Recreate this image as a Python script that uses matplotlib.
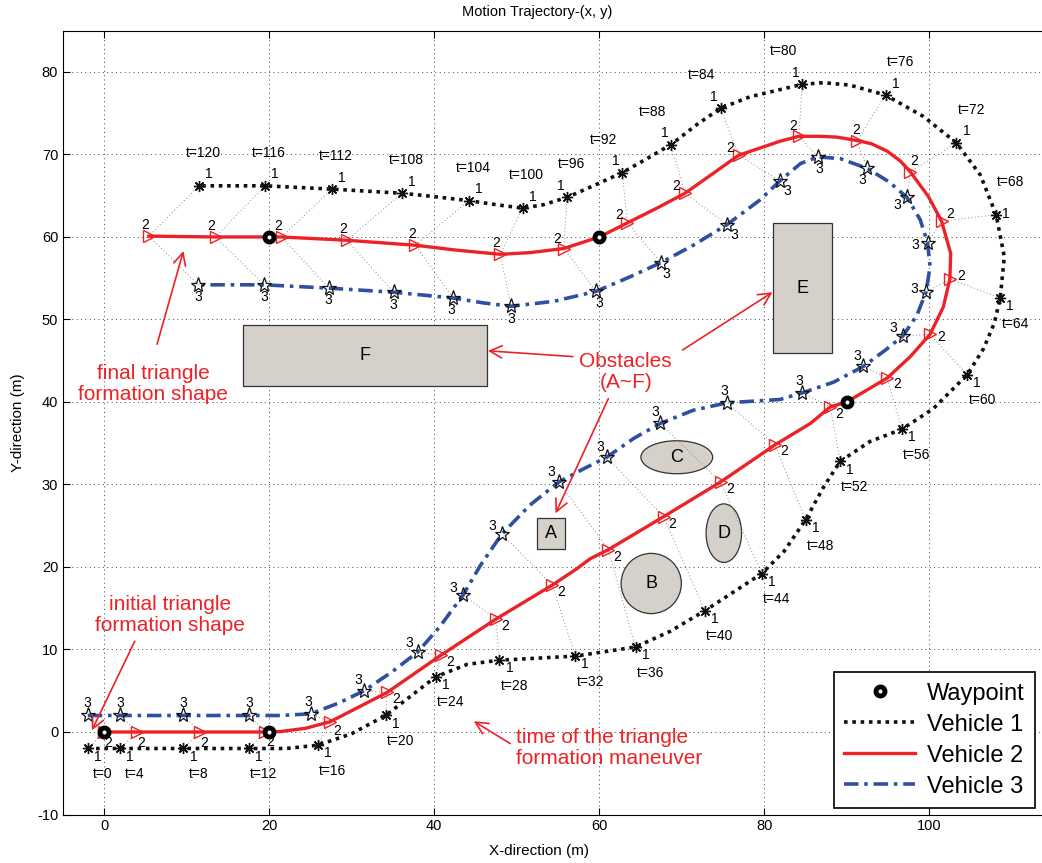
import numpy as np
import matplotlib.pyplot as plt
from matplotlib.patches import Rectangle, Ellipse

plt.rcParams['font.family'] = ['Liberation Sans', 'DejaVu Sans']
plt.rcParams['axes.unicode_minus'] = False

# time instants where the formation is marked
times = list(range(0, 121, 4))

# vehicle positions at the marked times
v1_x = [-2, 1.9, 9.6, 17.5, 25.9, 34.1, 40.2, 47.9, 57.1, 64.4, 72.8, 79.7, 85.0, 89.2, 96.7, 104.6,
        108.6, 108.1, 103.3, 94.7, 84.6, 74.7, 68.7, 62.8, 56.1, 50.7, 44.2, 36.1, 27.6, 19.5, 11.5]
v1_y = [-2, -2, -2, -2, -1.6, 2.0, 6.7, 8.7, 9.2, 10.3, 14.7, 19.2, 25.7, 32.8, 36.7, 43.3,
        52.6, 62.7, 71.4, 77.2, 78.5, 75.6, 71.2, 67.8, 64.8, 63.5, 64.4, 65.3, 65.8, 66.2, 66.2]
v2_x = [0, 4.0, 11.6, 19.5, 27.4, 34.3, 40.8, 47.5, 54.3, 61.1, 67.8, 74.7, 81.3, 88.0, 94.9, 100.1,
        102.5, 101.5, 97.7, 91.2, 84.2, 76.9, 70.4, 63.4, 55.7, 48.0, 37.7, 29.4, 21.5, 13.5, 5.4]
v2_y = [0, 0, 0, 0, 1.25, 4.8, 9.3, 13.7, 17.8, 22.1, 26.1, 30.3, 34.8, 39.4, 42.9, 48.2,
        54.9, 61.9, 67.9, 71.6, 72.2, 69.9, 65.3, 61.7, 58.6, 57.9, 59.0, 59.6, 60.0, 60.0, 60.1]
v3_x = [-2, 1.94, 9.6, 17.6, 25.0, 31.5, 38.0, 43.5, 48.2, 55.1, 60.9, 67.4, 75.5, 84.6, 92.0, 96.8,
        99.6, 99.8, 97.3, 92.5, 86.5, 81.9, 75.5, 67.5, 59.6, 49.3, 42.3, 35.1, 27.2, 19.4, 11.4]
v3_y = [2, 2, 2, 2, 2.2, 5.0, 9.7, 16.6, 24.0, 30.3, 33.3, 37.4, 39.9, 41.1, 44.3, 48.0,
        53.3, 59.3, 64.8, 68.3, 69.7, 66.8, 61.5, 56.9, 53.4, 51.6, 52.6, 53.3, 53.8, 54.2, 54.2]

# full trajectories (marked points plus extra points)
path1_x = [-2, 1.9, 9.6, 17.5, 22, 25.9, 30, 34.1, 40.2, 44, 47.9, 57.1, 64.4, 68.6, 72.8, 79.7, 82.4,
           85, 87.2, 89.2, 92.8, 96.7, 100.5, 104.6, 106.6, 107.9, 108.6, 109.1, 108.1, 106.2, 103.3,
           99.3, 94.7, 90.4, 87.2, 84.6, 78.3, 74.7, 71.8, 68.7, 65.8, 62.8, 59.5, 56.1, 53.2, 50.7,
           47.6, 44.2, 39.9, 36.1, 27.6, 19.5, 11.5]
path1_y = [-2, -2, -2, -2, -2, -1.6, -0.2, 2.0, 6.7, 8.2, 8.7, 9.2, 10.3, 12.2, 14.7, 19.2, 21.9,
           25.7, 29.7, 32.8, 35.2, 36.7, 39.2, 43.3, 46.5, 49.6, 52.6, 57.6, 62.7, 67.5, 71.4,
           74.6, 77.2, 78.4, 78.7, 78.5, 77.0, 75.6, 73.6, 71.2, 69.5, 67.8, 66.3, 64.8, 63.9, 63.5,
           63.9, 64.4, 64.9, 65.3, 65.8, 66.2, 66.2]
path2_x = [0, 4, 11.6, 19.5, 21.3, 24.4, 27.4, 31, 34.3, 40.8, 47.5, 54.3, 57.3, 58.9, 61.1, 67.8,
           74.7, 81.3, 85.6, 88, 90, 94.9, 97.7, 100.1, 101.7, 102.5, 102.6, 101.5, 99.9, 97.7, 96.5,
           94.9, 93.0, 91.2, 88.8, 86.8, 84.2, 81.9, 76.9, 73.8, 70.4, 67, 63.4, 60, 55.7, 51.6, 48,
           42.7, 37.7, 29.4, 21.5, 20, 13.5, 5.4]
path2_y = [0, 0, 0, 0, 0.05, 0.45, 1.25, 3.1, 4.8, 9.3, 13.7, 17.8, 19.8, 21.0, 22.1, 26.1,
           30.3, 34.8, 37.4, 39.4, 40, 42.9, 45.5, 48.2, 51.5, 54.9, 58, 61.9, 64.9, 67.9, 69.2,
           70.4, 71.3, 71.7, 72.1, 72.2, 72.2, 71.6, 69.9, 67.7, 65.3, 63.5, 61.7, 60, 58.6, 58.1, 57.9,
           58.4, 59.0, 59.6, 60.0, 60.0, 60.0, 60.1]
path3_x = [-2, 1.94, 9.6, 17.6, 21.3, 25, 28.4, 31.5, 34.9, 38, 40.7, 43.5, 45.6, 48.2, 51.6, 55.1,
           58.1, 60.9, 64.2, 67.4, 71.4, 75.5, 77.1, 81.9, 84.6, 88.4, 92, 94.7, 96.8, 98.5, 99.6,
           100.1, 99.8, 98.9, 97.3, 95.1, 92.5, 89.2, 86.5, 84.4, 81.9, 79.5, 75.5, 71.4, 67.5, 63.8,
           59.6, 54.5, 49.3, 46, 42.3, 35.1, 27.2, 19.4, 11.4]
path3_y = [2, 2, 2, 2, 2.0, 2.2, 3.5, 5.0, 7.3, 9.7, 12.8, 16.6, 20.2, 24, 27.5, 30.3,
           31.9, 33.3, 35.6, 37.4, 39, 39.9, 40.0, 40.3, 41.1, 42.4, 44.3, 46.3, 48, 50.5, 53.3,
           56.4, 59.3, 62.1, 64.8, 66.7, 68.3, 69.5, 69.7, 68.9, 66.8, 64.5, 61.5, 59, 56.9, 55.2,
           53.4, 52.2, 51.6, 52, 52.6, 53.3, 53.8, 54.2, 54.2]

# waypoints
wp_x = [0, 20, 90, 60, 20]
wp_y = [0, 0, 40, 60, 60]

# obstacles
rect_names = ['A', 'E', 'F']
rect_x0 = [52.5, 81.05, 16.8]
rect_y0 = [22.2, 45.9, 41.9]
rect_w = [3.3, 7.15, 29.6]
rect_h = [3.7, 15.8, 7.4]
ell_names = ['B', 'C', 'D']
ell_cx = [66.3, 69.4, 75.1]
ell_cy = [18.0, 33.3, 24.1]
ell_w = [7.3, 8.7, 4.3]
ell_h = [7.3, 4.0, 7.1]

red = '#ec2227'
blue = '#2f50a0'
obs_face = '#d5d1ca'

fig = plt.figure(figsize=(10.42, 8.63), dpi=100)
ax = fig.add_axes([63 / 1042, 48.5 / 863, 990 / 1042, 783.8 / 863])

ax.set_xticks(range(0, 101, 20))
ax.set_yticks(range(-10, 81, 10))
ax.set_xlim(-5, 115)
ax.set_ylim(-10, 85)
ax.tick_params(direction='in', top=True, right=True, length=5, labelsize=10.5, width=0.8)
ax.grid(True, color='#444444', lw=0.7, dashes=(1, 3.5))
ax.set_axisbelow(True)
for s in ax.spines.values():
    s.set_linewidth(0.8)

# obstacles
for name, x0, y0, w, h in zip(rect_names, rect_x0, rect_y0, rect_w, rect_h):
    ax.add_patch(Rectangle((x0, y0), w, h, fc=obs_face, ec='#333333', lw=0.9, zorder=1))
    ax.text(x0 + w / 2, y0 + h / 2, name, ha='center', va='center', fontsize=13, zorder=2)
for name, cx, cy, w, h in zip(ell_names, ell_cx, ell_cy, ell_w, ell_h):
    ax.add_patch(Ellipse((cx, cy), w, h, fc=obs_face, ec='#333333', lw=0.9, zorder=1))
    ax.text(cx, cy, name, ha='center', va='center', fontsize=13, zorder=2)

# formation triangles at each marked time
for i in range(len(times)):
    ax.plot([v1_x[i], v2_x[i], v3_x[i]], [v1_y[i], v2_y[i], v3_y[i]],
            color='#8a8a8a', lw=0.7, dashes=(1, 2.5), zorder=2)

l1, = ax.plot(path1_x, path1_y, color='#111111', lw=2.6, ls=(0, (1, 1.3)), zorder=3,
              label='Vehicle 1')
l2, = ax.plot(path2_x, path2_y, color=red, lw=2.4, zorder=3, label='Vehicle 2')
l3, = ax.plot(path3_x, path3_y, color=blue, lw=2.6, ls=(0, (4, 1.6, 1, 1.6)), zorder=3,
              label='Vehicle 3')

ax.plot(v1_x, v1_y, ls='none', marker=(8, 2, 0), ms=8, mec='#111111', mew=1.0, zorder=4)
ax.plot(v2_x, v2_y, ls='none', marker='>', ms=8, mfc='none', mec=red, mew=1.0, zorder=4)
ax.plot(v3_x, v3_y, ls='none', marker='*', ms=11, mfc='none', mec='#111111', mew=0.9, zorder=4)

wp, = ax.plot(wp_x, wp_y, ls='none', marker='o', ms=6.5, mfc='white', mec='black', mew=3.5,
              zorder=5, label='Waypoint')


def side_normals(xs, ys, side):
    p = np.column_stack([xs, ys]).astype(float)
    d = np.gradient(p, axis=0)
    d /= np.linalg.norm(d, axis=1)[:, None]
    n = np.column_stack([d[:, 1], -d[:, 0]]) * side
    return d, n


d2, n2 = side_normals(v2_x, v2_y, 1)
d3, n3 = side_normals(v3_x, v3_y, -1)

for i, t in enumerate(times):
    # vehicle 1: number next to the marker, time label further out
    dx1 = -0.8 if 80 <= t <= 96 else 1.2
    dy1 = -1.0 if t <= 64 else (0.1 if t == 68 else 1.4)
    tx = 1.8 if t <= 76 else (-2.3 if t <= 92 else 0.5)
    ty = -3.1 if t <= 64 else 4.0
    ax.text(v1_x[i] + dx1, v1_y[i] + dy1, '1', fontsize=10, ha='center', va='center', zorder=6)
    ax.text(v1_x[i] + tx, v1_y[i] + ty, 't=%d' % t, fontsize=10,
            ha='center', va='center', zorder=6)
    ax.text(v2_x[i] + 0.5 * d2[i, 0] + 1.3 * n2[i, 0], v2_y[i] + 0.5 * d2[i, 1] + 1.3 * n2[i, 1],
            '2', fontsize=10, ha='center', va='center', zorder=6)
    ax.text(v3_x[i] + 1.5 * n3[i, 0], v3_y[i] + 1.5 * n3[i, 1], '3', fontsize=10,
            ha='center', va='center', zorder=6)

# annotations
arrow = dict(arrowstyle='->', color=red, lw=1.2, mutation_scale=22, shrinkA=0, shrinkB=0)
ax.text(8.0, 14.2, 'initial triangle\nformation shape', color=red, fontsize=15,
        ha='center', va='center', linespacing=1.15, zorder=6)
ax.annotate('', xy=(-1.5, 0.2), xytext=(3.7, 11.0), arrowprops=arrow, zorder=6)
ax.text(5.9, 42.2, 'final triangle\nformation shape', color=red, fontsize=15,
        ha='center', va='center', linespacing=1.15, zorder=6)
ax.annotate('', xy=(9.6, 58.3), xytext=(6.4, 47.0), arrowprops=arrow, zorder=6)
ax.text(63.2, 43.6, 'Obstacles\n(A~F)', color=red, fontsize=15,
        ha='center', va='center', linespacing=1.15, zorder=6)
ax.annotate('', xy=(46.5, 46.2), xytext=(56.8, 45.5), arrowprops=arrow, zorder=6)
ax.annotate('', xy=(81.0, 53.3), xytext=(70.1, 46.3), arrowprops=arrow, zorder=6)
ax.annotate('', xy=(54.7, 26.5), xytext=(61.1, 40.4), arrowprops=arrow, zorder=6)
ax.text(49.9, -1.9, 'time of the triangle\nformation maneuver', color=red, fontsize=15,
        ha='left', va='center', linespacing=1.15, zorder=6)
ax.annotate('', xy=(44.8, 1.3), xytext=(49.2, -1.4), arrowprops=arrow, zorder=6)

ax.text(0.479, 1.024, 'Motion Trajectory-(x, y)', transform=ax.transAxes,
        ha='center', va='center', fontsize=10.5)
ax.set_xlabel('X-direction (m)', fontsize=11)
ax.xaxis.set_label_coords(0.481, -0.0466)
ax.xaxis.label.set_va('center')
ax.set_ylabel('Y-direction (m)', fontsize=11)
ax.yaxis.set_label_coords(-0.045, 0.5)
ax.yaxis.label.set_va('center')

leg = ax.legend(handles=[wp, l1, l2, l3], loc='lower right', bbox_to_anchor=(0.982, 0.008),
                fontsize=17, fancybox=False, framealpha=1, edgecolor='black',
                handlelength=3.0, borderpad=0.45, labelspacing=0.38, handletextpad=0.5,
                borderaxespad=0)
leg.get_frame().set_linewidth(1.2)
leg.set_zorder(10)

fig.savefig('out.png', dpi=100)
